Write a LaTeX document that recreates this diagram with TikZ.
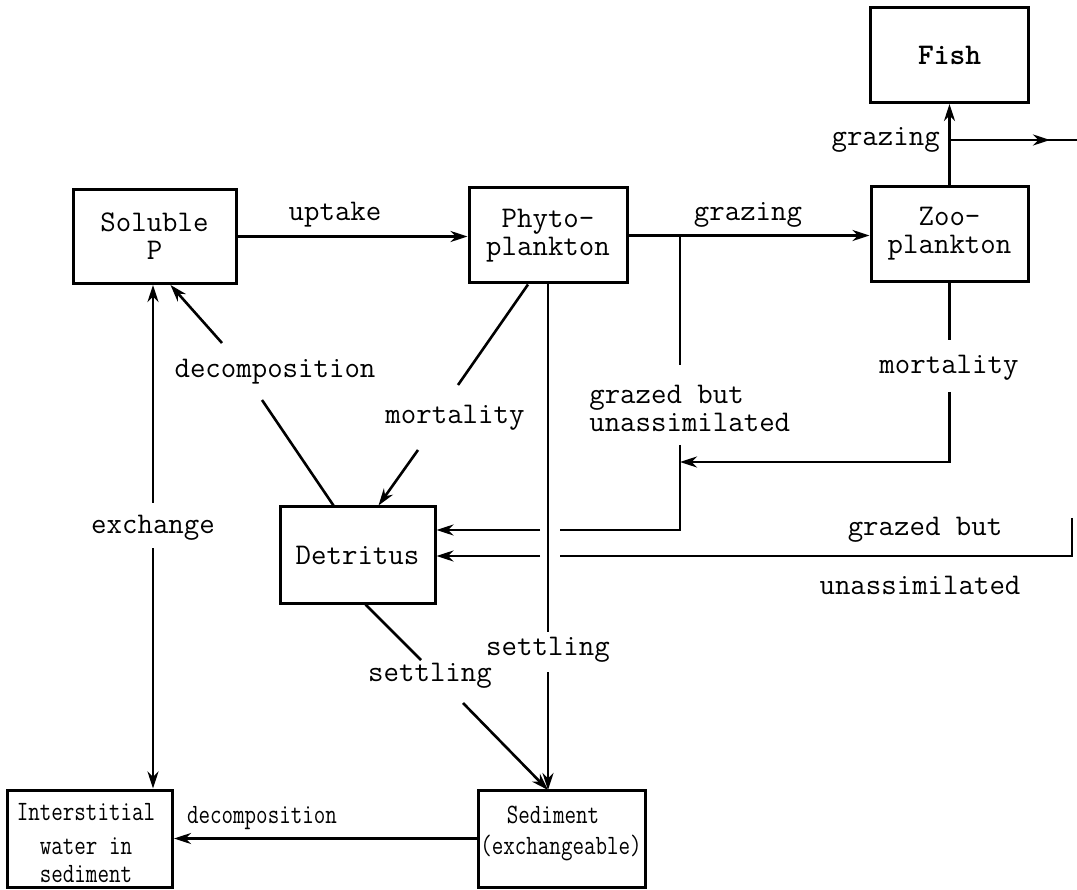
\documentclass[tikz,border=0pt]{standalone}
\usetikzlibrary{arrows.meta,calc}
\newcommand\bigtt{\ttfamily\fontsize{30}{28}\selectfont}
\newcommand\smalltt{\ttfamily\fontsize{28}{33}\selectfont}
\newcommand\sq[1]{\scalebox{0.8}[1]{#1}}
\begin{document}
\begin{tikzpicture}[x=1pt,y=-1pt,line width=2.6pt,
  box/.style={draw,line width=3pt,rectangle,inner sep=0pt,align=center,font=\bigtt},
  ar/.style={-{Stealth[length=17pt,width=11pt]}},
  lab/.style={inner sep=0pt,font=\bigtt},
  slab/.style={inner sep=0pt,font=\smalltt}]
\useasboundingbox (0,0) rectangle (1077,890);
% boxes
\node[box,minimum width=163pt,minimum height=94pt] (sol) at (154.5,236.5) {Soluble\\P};
\node[box,minimum width=158pt,minimum height=95pt] (phy) at (548,235.5) {Phyto-\\plankton};
\node[box,minimum width=157pt,minimum height=95pt] (zoo) at (949.5,234) {Zoo-\\plankton};
\node[box,minimum width=158pt,minimum height=95pt,font=\bigtt\bfseries] (fish) at (949.5,55) {Fish};
\node[box,minimum width=155pt,minimum height=96pt] (det) at (357.5,555) {Detritus};
\node[box,minimum width=165pt,minimum height=97pt] (int) at (90,838.5) {};
\node[box,minimum width=167pt,minimum height=97pt] (sed) at (561.5,838.5) {};
% box texts
\node[slab] (int1) at (86,812) {\sq{Interstitial}};
\node[slab] (int2) at (86,846) {\sq{water in}};
\node[slab] (int3) at (86,874) {\sq{sediment}};
\node[slab] (sed1) at (553,815) {\sq{Sediment}};
\node[slab] (sed2) at (561,848) {\sq{(exchangeable)}};
% uptake
\draw[ar] (sol.east) -- (phy.west |- sol.east);
\node[lab] (upl) at (335,215) {uptake};
% grazing phyto -> zoo
\draw[ar] (phy.east) -- (zoo.west |- phy.east);
\node[lab] (grl) at (748,215) {grazing};
% grazing zoo -> fish
\draw[ar] (zoo.north) -- (fish.south);
\coordinate (fj) at (949.5,140);
\coordinate (fa) at (1050,140);
\coordinate (fe) at (1077,140);
\draw (fj) -- (fe);
\draw[ar] (fj) -- (fa);
\node[lab,anchor=east] (fgl) at (941,140) {grazing};
% grazed but unassimilated (phyto-zoo branch)
\coordinate (gj) at (680,235.5);
\coordinate (v1) at (680,365);
\coordinate (v2) at (680,445);
\coordinate (c1) at (680,530);
\draw (gj) -- (v1);
\node[lab,align=left,anchor=west] (gul) at (588,408) {grazed but\\unassimilated};
\coordinate (h1) at (560,530);
\coordinate (h2) at (540,530);
\draw (v2) -- (c1) -- (h1);
\draw[ar] (h2) -- (det.east |- h2);
% zooplankton mortality
\coordinate (z1) at (949.5,340);
\coordinate (z2) at (949.5,392);
\coordinate (zc) at (949.5,462);
\draw (zoo.south) -- (z1);
\node[lab] (zml) at (949,368) {mortality};
\draw[ar] (z2) -- (zc) -- (v2 |- zc);
% fish grazed but unassimilated
\coordinate (rt) at (1072,518);
\coordinate (rc) at (1072,556);
\coordinate (k1) at (560,556);
\coordinate (k2) at (540,556);
\draw (rt) -- (rc) -- (k1);
\draw[ar] (k2) -- (det.east |- k2);
\node[lab] (fgb) at (925,530) {grazed but};
\node[lab] (fun) at (920,585) {unassimilated};
% phyto mortality
\coordinate (m0) at ($(phy.south)+(-20,0)$);
\coordinate (m1) at (458,385);
\coordinate (m2) at (418,450);
\draw (m0) -- (m1);
\draw[ar] (m2) -- ($(det.north)+(21,0)$);
\node[lab] (pml) at (455,418) {mortality};
% decomposition detritus -> soluble
\coordinate (d0) at ($(det.north west)+(55,0)$);
\coordinate (d1) at (262,400);
\coordinate (d2) at (222,343);
\draw (d0) -- (d1);
\draw[ar] (d2) -- ($(sol.south)+(16,0)$);
\node[lab] (dcl) at (275,372) {decomposition};
% exchange
\node[lab] (exl) at (153,528) {exchange};
\coordinate (e1) at (153,503);
\coordinate (e2) at (153,548);
\draw[ar] (e1) -- (e1 |- sol.south);
\draw[ar] (e2) -- (e2 |- int.north);
% phyto settling
\coordinate (p1) at (548,632);
\coordinate (p2) at (548,672);
\coordinate (sp) at (548,790);
\draw (phy.south) -- (p1);
\draw[ar] (p2) -- (sp);
\node[lab] (psl) at (548,650) {settling};
% detritus settling
\coordinate (s0) at ($(det.south)+(8,0)$);
\coordinate (s1) at (421,660);
\coordinate (s2) at (463,703);
\draw (s0) -- (s1);
\draw[ar] (s2) -- (sp);
\node[lab] (dsl) at (430,676) {settling};
% decomposition sediment -> interstitial
\draw[ar] (sed.west) -- (int.east |- sed.west);
\node[slab] (bdl) at (262,818) {\sq{decomposition}};
\end{tikzpicture}
\end{document}
